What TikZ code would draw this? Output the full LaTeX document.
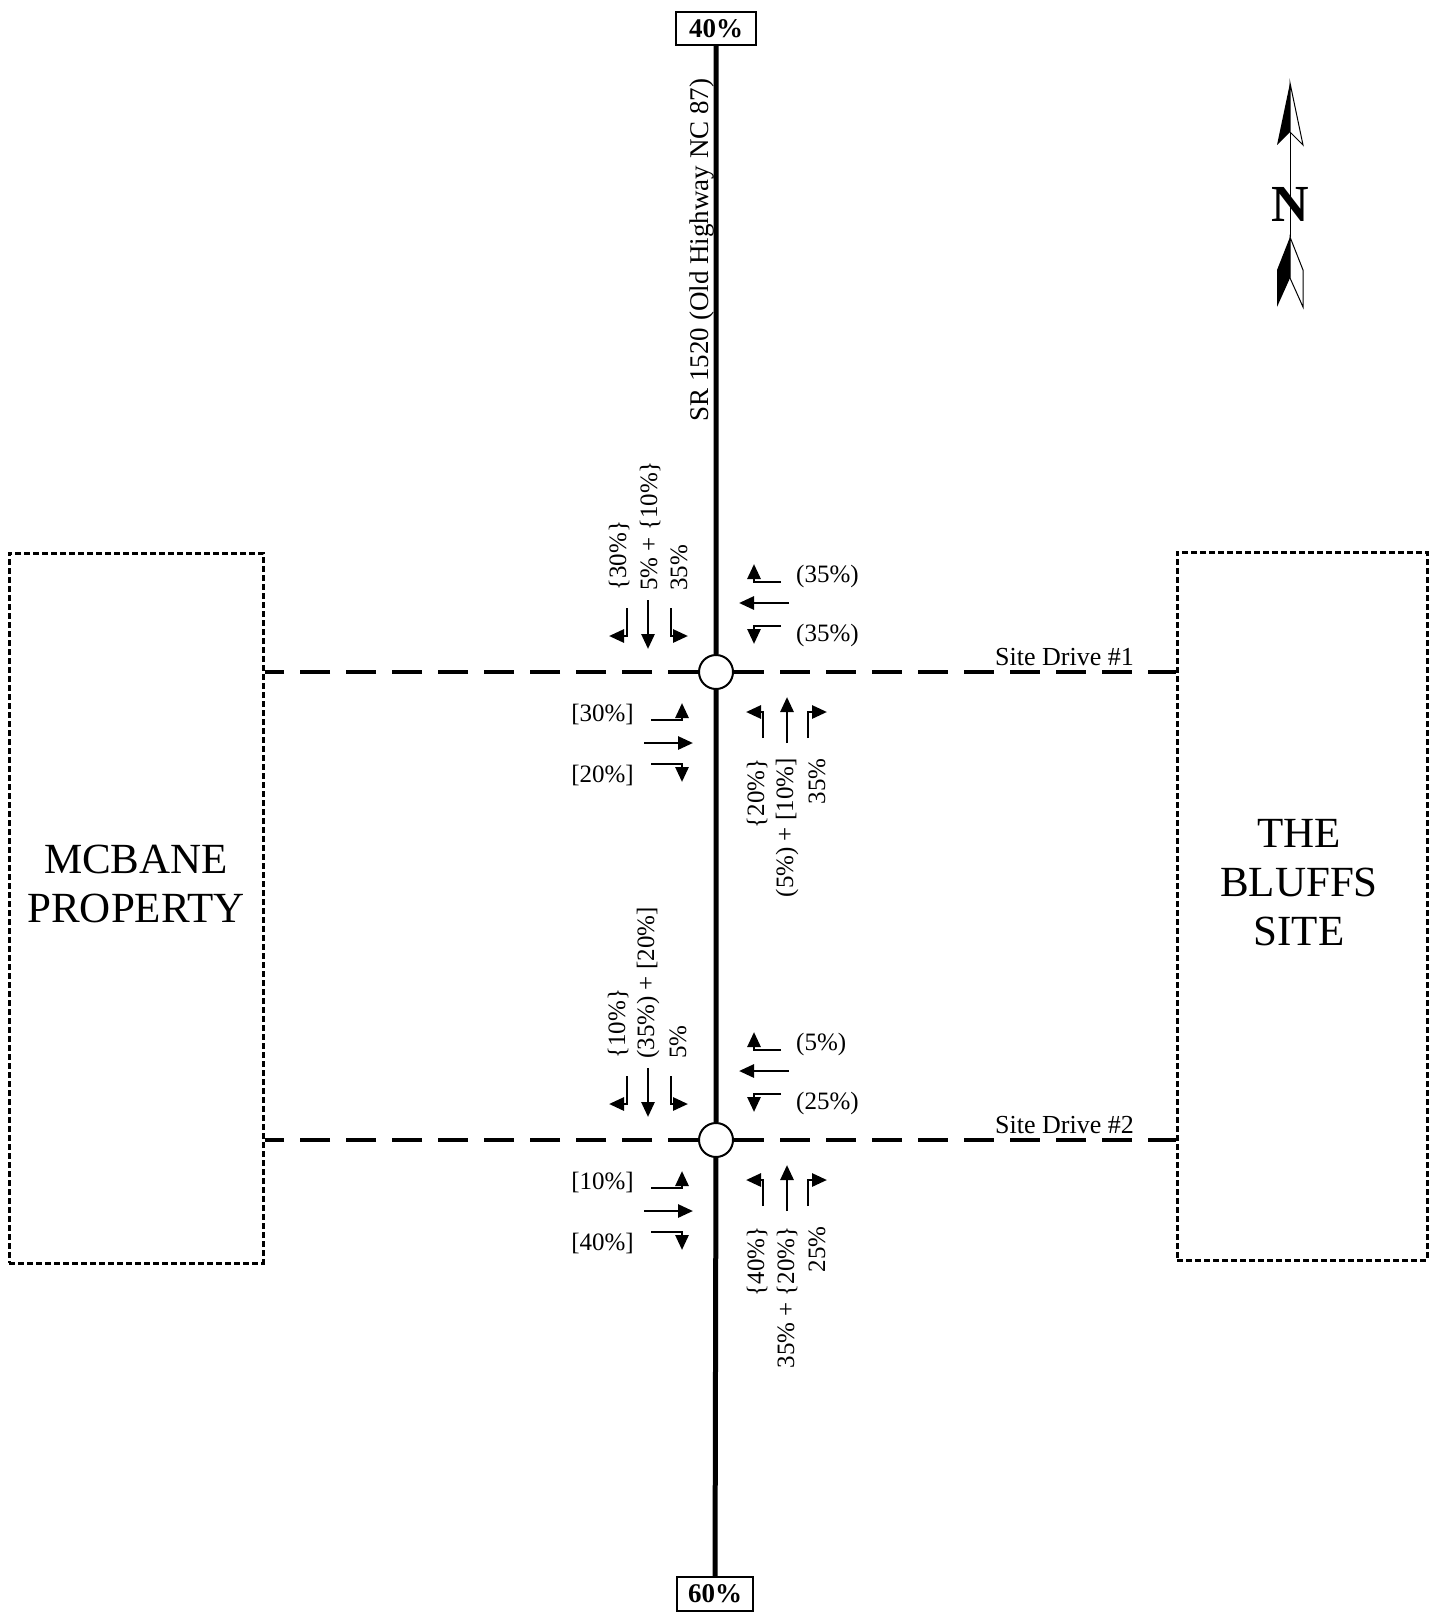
\documentclass[tikz,border=0pt]{standalone}
\usepackage{fontspec}
\setmainfont{Liberation Serif}
\usetikzlibrary{arrows.meta}

\tikzset{
  road/.style={line width=5pt},
  drive/.style={line width=4pt, dash pattern=on 30pt off 16pt},
  lot/.style={draw, line width=3pt, dash pattern=on 6pt off 3pt, inner sep=0pt},
  site/.style={align=center, font=\fontsize{43}{49}\selectfont, inner sep=0pt},
  endbox/.style={draw, line width=2.5pt, inner sep=0pt, font=\bfseries\fontsize{27}{32}\selectfont},
  circ/.style={circle, draw, fill=white, line width=2pt, minimum size=34pt, inner sep=0pt},
  turn/.style={line width=2.8pt, line join=miter, -{Triangle[length=15pt,width=13pt]}},
  vol/.style={font=\fontsize{25}{30}\selectfont, inner sep=0pt},
  vvol/.style={vol, rotate=90},
}

\begin{document}
\begin{tikzpicture}[x=1pt,y=-1pt]
  \useasboundingbox (0,0) rectangle (1433,1613);

  % sites
  \node[lot, minimum width=254, minimum height=710] (mcb) at (136,908) {};
  \node[site] (mcbtxt) at (136,884) {MCBANE\\PROPERTY};
  \node[lot, minimum width=250, minimum height=708] (bluffs) at (1302,906) {};
  \node[site] (bluffstxt) at (1299,883) {THE\\BLUFFS\\SITE};

  % SR 1520
  \node[endbox, minimum width=80, minimum height=33] (n40) at (716,28.5) {40\%};
  \node[endbox, minimum width=76, minimum height=34] (s60) at (715,1594) {60\%};
  \node[vol, rotate=90, font=\fontsize{27}{32}\selectfont] (rname) at (702,250) {SR 1520 (Old Highway NC 87)};

  \node[circ] (i1) at (716,672) {};
  \node[circ] (i2) at (716,1140) {};
  \draw[road] (n40) -- (i1) -- (i2) -- (s60);

  % site drives
  \draw[drive] (i1) -- (i1 -| mcb.east);
  \draw[drive] (i1) -- (i1 -| bluffs.west);
  \draw[drive] (i2) -- (i2 -| mcb.east);
  \draw[drive] (i2) -- (i2 -| bluffs.west);
  \node[vol, anchor=base west, font=\fontsize{26}{31}\selectfont] (sd1) at (995,665) {Site Drive \#1};
  \node[vol, anchor=base west, font=\fontsize{26}{31}\selectfont] (sd2) at (995,1133) {Site Drive \#2};

  % lane arrows
  \foreach \i in {1,2}{
    \begin{scope}[shift={(i\i)}]
      \draw[turn] (-89,-64) -- (-89,-36) -- (-107,-36);
      \draw[turn] (-68,-72) -- (-68,-23);
      \draw[turn] (-45,-64) -- (-45,-36) -- (-28,-36);
      \draw[turn] (65,-90) -- (38,-90) -- (38,-108);
      \draw[turn] (73,-69) -- (23,-69);
      \draw[turn] (65,-46) -- (38,-46) -- (38,-28);
      \draw[turn] (-65,48) -- (-34,48) -- (-34,31);
      \draw[turn] (-72,71) -- (-23,71);
      \draw[turn] (-65,92) -- (-34,92) -- (-34,110);
      \draw[turn] (47,66) -- (47,40) -- (30,40);
      \draw[turn] (71,71) -- (71,25);
      \draw[turn] (92,66) -- (92,40) -- (111,40);
    \end{scope}
  }

  % volumes, site drive #1
  \begin{scope}[shift={(i1)}]
    \node[vvol, anchor=west] (sb1l) at (-97,-81) {\{30\%\}};
    \node[vvol, anchor=west] (sb1t) at (-66,-81) {5\% + \{10\%\}};
    \node[vvol, anchor=west] (sb1r) at (-37,-81) {35\%};
    \node[vol, anchor=west] (wb1l) at (80,-96) {(35\%)};
    \node[vol, anchor=west] (wb1r) at (80,-37) {(35\%)};
    \node[vol, anchor=east] (eb1l) at (-82,42) {[30\%]};
    \node[vol, anchor=east] (eb1r) at (-82,103) {[20\%]};
    \node[vvol, anchor=east] (nb1l) at (41,86) {\{20\%\}};
    \node[vvol, anchor=east] (nb1t) at (71,86) {(5\%) + [10\%]};
    \node[vvol, anchor=east] (nb1r) at (101,86) {35\%};
  \end{scope}

  % volumes, site drive #2
  \begin{scope}[shift={(i2)}]
    \node[vvol, anchor=west] (sb2l) at (-98,-81) {\{10\%\}};
    \node[vvol, anchor=west] (sb2t) at (-68,-81) {(35\%) + [20\%]};
    \node[vvol, anchor=west] (sb2r) at (-38,-81) {5\%};
    \node[vol, anchor=west] (wb2l) at (80,-96) {(5\%)};
    \node[vol, anchor=west] (wb2r) at (80,-37) {(25\%)};
    \node[vol, anchor=east] (eb2l) at (-82,42) {[10\%]};
    \node[vol, anchor=east] (eb2r) at (-82,103) {[40\%]};
    \node[vvol, anchor=east] (nb2l) at (41,86) {\{40\%\}};
    \node[vvol, anchor=east] (nb2t) at (71,86) {35\% + \{20\%\}};
    \node[vvol, anchor=east] (nb2r) at (101,86) {25\%};
  \end{scope}

  % north arrow
  \draw[line width=0.8pt] (1290,132) -- (1290,237);
  \fill (1290,83) -- (1277,145) -- (1290,132) -- cycle;
  \draw[fill=white, line width=1pt] (1290,83) -- (1303,145) -- (1290,132) -- cycle;
  \fill (1290,237) -- (1277,270) -- (1277,307) -- (1290,278) -- cycle;
  \draw[line width=1pt] (1290,237) -- (1303,270) -- (1303,307) -- (1290,278) -- cycle;
  \node[inner sep=0pt, font=\bfseries\fontsize{52}{62}\selectfont] (north) at (1290,204) {N};
\end{tikzpicture}
\end{document}
